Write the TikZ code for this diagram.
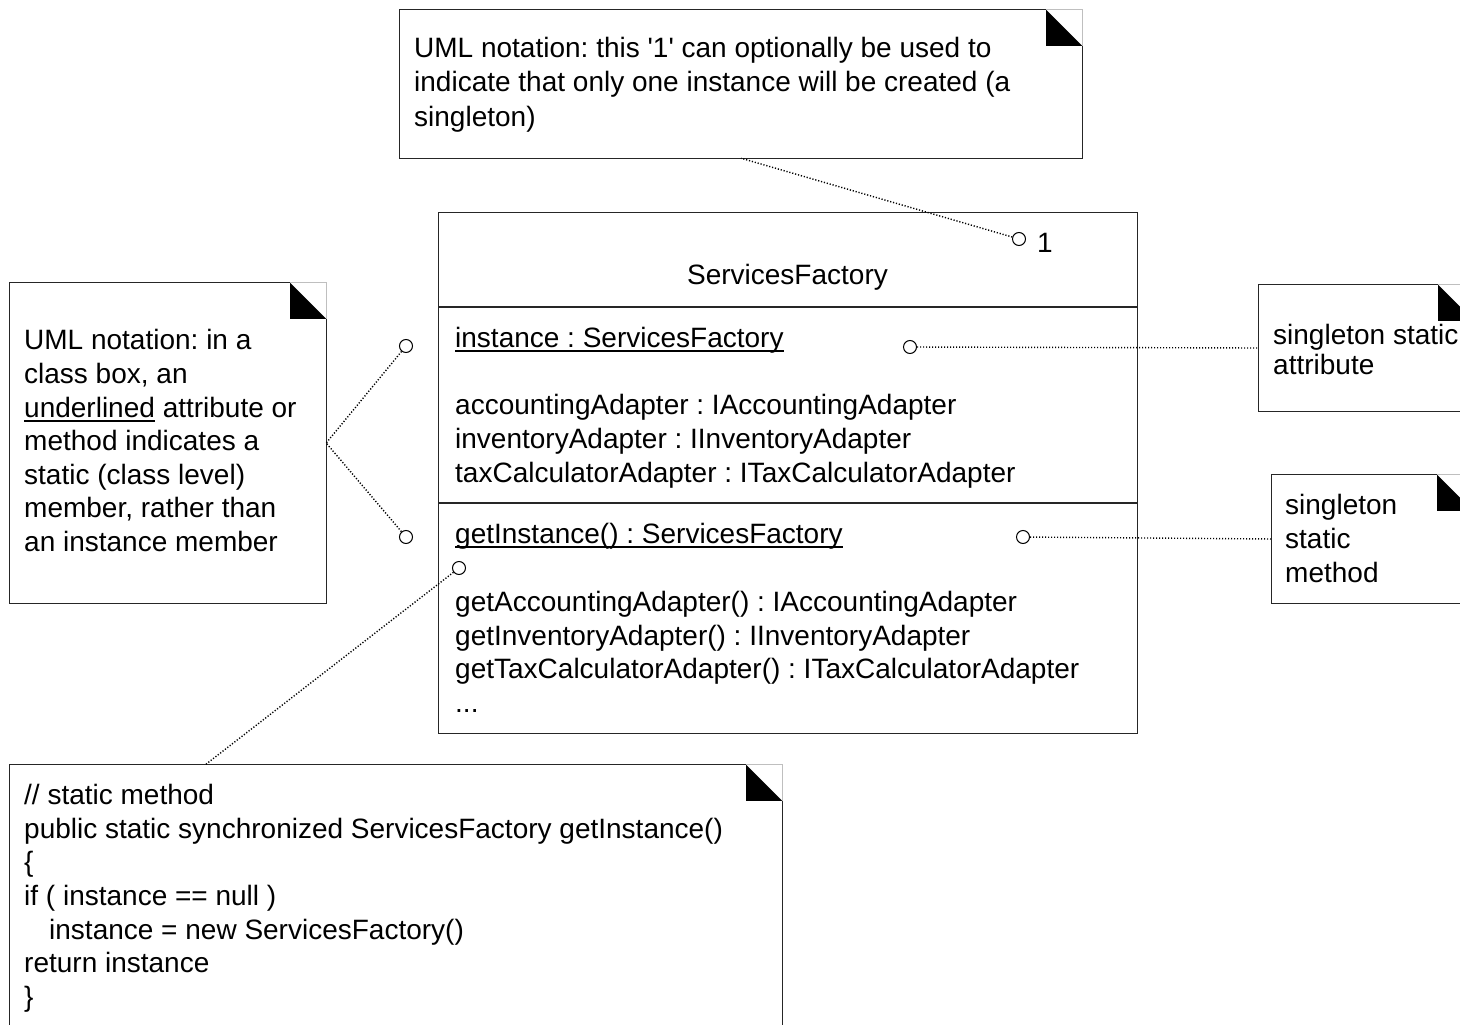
\documentclass[tikz,border=0pt]{standalone}
\usepackage{fontspec}
\setmainfont{Liberation Sans}
\usetikzlibrary{fit}
\frenchspacing

% text size used throughout the diagram
\newcommand\umlsize{\fontsize{28}{34}\selectfont}
% underline drawn close to the baseline (crosses descenders)
\newsavebox\ulbox
\newcommand\ulu[1]{\sbox\ulbox{#1}\rlap{\rule[-4.5pt]{\wd\ulbox}{1.5pt}}\usebox\ulbox}
% note outline with a folded top-right corner
\newcommand\umlnotebox[1]{%
  \draw[frm] ([xshift=-36pt]#1.north east) -- (#1.north west) -- (#1.south west)
    -- (#1.south east) -- ([yshift=-36pt]#1.north east);
  \fill[black] ([xshift=-36pt]#1.north east) -- ([xshift=-36pt,yshift=-36pt]#1.north east)
    -- ([yshift=-36pt]#1.north east) -- cycle;
  \draw[foldln] ([xshift=-36pt]#1.north east) -- (#1.north east) -- ([yshift=-36pt]#1.north east);}

\begin{document}
\begin{tikzpicture}[x=1pt,y=-1pt,
  frm/.style={line width=1.3pt, draw=black!85},
  foldln/.style={line width=0.8pt, draw=black!25},
  txt/.style={anchor=base west, inner sep=0pt, font=\umlsize},
  port/.style={draw, circle, inner sep=0pt, minimum size=13pt, line width=1pt, fill=white},
  dotln/.style={line width=1.4pt, dash pattern=on 1.2pt off 1.8pt},
  area/.style={inner sep=0pt}]
\useasboundingbox (0,0) rectangle (1460,1025);
\fill[white] (0,0) rectangle (1460,1025);
\begin{scope}
\clip (0,0) rectangle (1460,1025);

% ---------- note areas ----------
\coordinate (tn1) at (400,10);   \coordinate (tn2) at (1082,158);
\coordinate (ln1) at (10,283);   \coordinate (ln2) at (326,603);
\coordinate (an1) at (1259,285); \coordinate (an2) at (1474,411);
\coordinate (mn1) at (1272,475); \coordinate (mn2) at (1473,603);
\coordinate (cn1) at (10,765);   \coordinate (cn2) at (782,1040);
\node[area, fit=(tn1)(tn2)] (topnote) {};
\node[area, fit=(ln1)(ln2)] (leftnote) {};
\node[area, fit=(an1)(an2)] (attrnote) {};
\node[area, fit=(mn1)(mn2)] (methnote) {};
\node[area, fit=(cn1)(cn2)] (codenote) {};
\umlnotebox{topnote}
\umlnotebox{leftnote}
\umlnotebox{attrnote}
\umlnotebox{methnote}
\umlnotebox{codenote}

% ---------- class box ----------
\node[frm, draw, anchor=north west, inner sep=0pt, minimum width=699pt, minimum height=521pt] (cls) at (438,212) {};
\draw[frm] (438,307) -- (1137,307);
\draw[frm] (438,503) -- (1137,503);

\node[anchor=base, inner sep=0pt, font=\umlsize] (clsname) at (787.5,284) {ServicesFactory};
\node[txt] (mult) at (1037,252) {1};

\node[txt] (a1) at (455,347) {\ulu{instance : ServicesFactory}};
\node[txt] (a2) at (455,414) {accountingAdapter : IAccountingAdapter};
\node[txt] (a3) at (455,448) {inventoryAdapter : IInventoryAdapter};
\node[txt] (a4) at (455,482) {taxCalculatorAdapter : ITaxCalculatorAdapter};

\node[txt] (m1) at (455,543) {\ulu{getInstance() : ServicesFactory}};
\node[txt] (m2) at (455,611) {getAccountingAdapter() : IAccountingAdapter};
\node[txt] (m3) at (455,645) {getInventoryAdapter() : IInventoryAdapter};
\node[txt] (m4) at (455,678) {getTaxCalculatorAdapter() : ITaxCalculatorAdapter};
\node[txt] (m5) at (455,712) {...};

% ---------- note texts ----------
\node[txt] (t1) at (414,58)  {UML notation: this \textquotesingle1\textquotesingle\ can optionally be used to};
\node[txt] (t2) at (414,92)  {indicate that only one instance will be created (a};
\node[txt] (t3) at (414,126) {singleton)};

\node[txt] (l1) at (24,349) {UML notation: in a};
\node[txt] (l2) at (24,383) {class box, an};
\node[txt] (l3) at (24,417) {\ulu{underlined} attribute or};
\node[txt] (l4) at (24,450) {method indicates a};
\node[txt] (l5) at (24,484) {static (class level)};
\node[txt] (l6) at (24,517) {member, rather than};
\node[txt] (l7) at (24,551) {an instance member};

\node[txt] (r1) at (1273,344) {singleton static};
\node[txt] (r2) at (1273,374) {attribute};

\node[txt] (s1) at (1285,514) {singleton};
\node[txt] (s2) at (1285,548) {static};
\node[txt] (s3) at (1285,582) {method};

\node[txt] (k1) at (24,804)  {// static method};
\node[txt] (k2) at (24,838)  {public static synchronized ServicesFactory getInstance()};
\node[txt] (k3) at (24,871)  {\{};
\node[txt] (k4) at (24,905)  {if ( instance == null )};
\node[txt] (k5) at (49,939)  {instance = new ServicesFactory()};
\node[txt] (k6) at (24,972)  {return instance};
\node[txt] (k7) at (24,1006) {\}};

% ---------- attachment points and connectors ----------
\node[port] (pmult) at (1019,239) {};
\node[port] (pattr) at (910,347) {};
\node[port] (pmeth) at (1023,537) {};
\node[port] (pcode) at (459,568) {};
\node[port] (pleft1) at (406,346) {};
\node[port] (pleft2) at (406,537) {};
\coordinate (codeanchor) at (205,765);

\draw[dotln] (pmult) -- (topnote.south);
\draw[dotln] (pattr) -- (attrnote.west);
\draw[dotln] (pmeth) -- (methnote.west);
\draw[dotln] (pleft1) -- (leftnote.east);
\draw[dotln] (pleft2) -- (leftnote.east);
\draw[dotln] (pcode) -- (codeanchor);
\end{scope}
\end{tikzpicture}
\end{document}
